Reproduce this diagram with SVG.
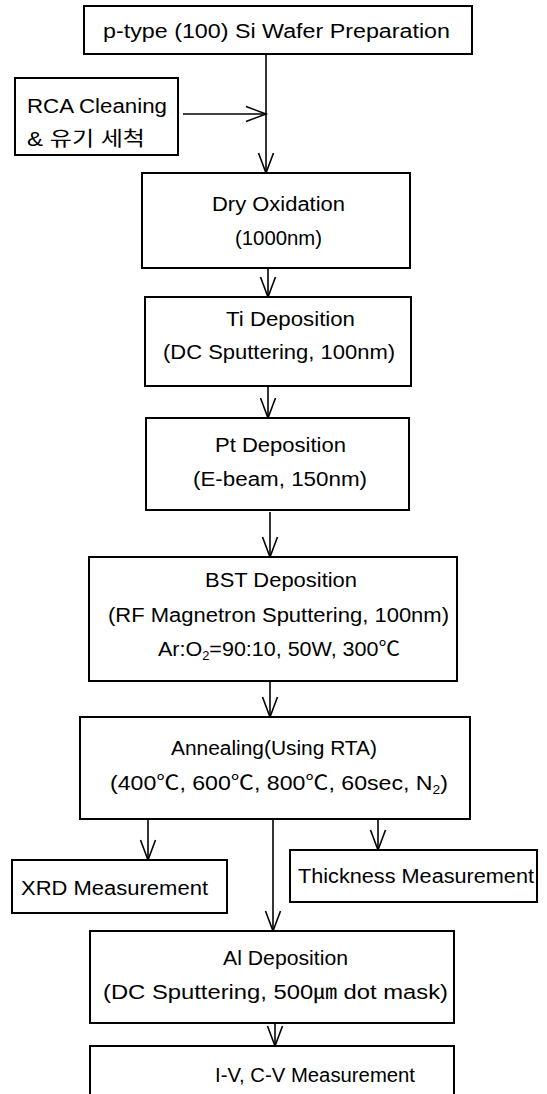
<svg xmlns="http://www.w3.org/2000/svg" width="547" height="1094" viewBox="0 0 547 1094">
<style>
.box{fill:#fff;stroke:#000;stroke-width:2}
.ln{fill:none;stroke:#000;stroke-width:1.6}
text{font-family:"Liberation Sans","Noto Sans CJK KR",sans-serif;font-size:20px;fill:#000}
.s{font-size:12px}
</style>
<defs>
<marker id="ah" markerUnits="userSpaceOnUse" markerWidth="24" markerHeight="18" refX="21" refY="8" orient="auto" overflow="visible">
<path d="M1,0.5 L21,8 L1,15.5" fill="none" stroke="#000" stroke-width="1.6"/>
</marker>
</defs>
<rect width="547" height="1094" fill="#fff"/>
<g id="connectors">
<line class="ln" x1="266" y1="54" x2="266" y2="173" marker-end="url(#ah)"/>
<line class="ln" x1="183" y1="114" x2="266" y2="114" marker-end="url(#ah)"/>
<line class="ln" x1="268" y1="268" x2="268" y2="297" marker-end="url(#ah)"/>
<line class="ln" x1="268" y1="386" x2="268" y2="418" marker-end="url(#ah)"/>
<line class="ln" x1="270" y1="512" x2="270" y2="557" marker-end="url(#ah)"/>
<line class="ln" x1="270" y1="681" x2="270" y2="717" marker-end="url(#ah)"/>
<line class="ln" x1="148" y1="819" x2="148" y2="860" marker-end="url(#ah)"/>
<line class="ln" x1="378" y1="819" x2="378" y2="850" marker-end="url(#ah)"/>
<line class="ln" x1="273" y1="819" x2="273" y2="931" marker-end="url(#ah)"/>
<line class="ln" x1="275" y1="1023" x2="275" y2="1046" marker-end="url(#ah)"/>
</g>
<g id="n-wafer">
<rect class="box" x="84" y="6" width="388" height="48"/>
<text x="103" y="38" textLength="347" lengthAdjust="spacingAndGlyphs">p-type (100) Si Wafer Preparation</text>
</g>
<g id="n-rca">
<rect class="box" x="15" y="78" width="163" height="77"/>
<text x="27" y="113" textLength="140" lengthAdjust="spacingAndGlyphs">RCA Cleaning</text>
<text x="27" y="146" textLength="118" lengthAdjust="spacingAndGlyphs">&amp; 유기 세척</text>
</g>
<g id="n-dry">
<rect class="box" x="142" y="173" width="268" height="95"/>
<text x="212" y="211" textLength="133" lengthAdjust="spacingAndGlyphs">Dry Oxidation</text>
<text x="235" y="245" textLength="87" lengthAdjust="spacingAndGlyphs">(1000nm)</text>
</g>
<g id="n-ti">
<rect class="box" x="145" y="297" width="266" height="89"/>
<text x="226" y="326" textLength="129" lengthAdjust="spacingAndGlyphs">Ti Deposition</text>
<text x="163" y="359" textLength="232" lengthAdjust="spacingAndGlyphs">(DC Sputtering, 100nm)</text>
</g>
<g id="n-pt">
<rect class="box" x="146" y="418" width="263" height="92"/>
<text x="215" y="452" textLength="131" lengthAdjust="spacingAndGlyphs">Pt Deposition</text>
<text x="193" y="486" textLength="174" lengthAdjust="spacingAndGlyphs">(E-beam, 150nm)</text>
</g>
<g id="n-bst">
<rect class="box" x="89" y="557" width="368" height="124"/>
<text x="205" y="587" textLength="152" lengthAdjust="spacingAndGlyphs">BST Deposition</text>
<text x="108" y="622" textLength="341" lengthAdjust="spacingAndGlyphs">(RF Magnetron Sputtering, 100nm)</text>
<text x="158" y="656" textLength="242" lengthAdjust="spacingAndGlyphs">Ar:O<tspan class="s" dy="4">2</tspan><tspan dy="-4">=90:10, 50W, 300℃</tspan></text>
</g>
<g id="n-anneal">
<rect class="box" x="80" y="717" width="390" height="102"/>
<text x="171" y="755" textLength="206" lengthAdjust="spacingAndGlyphs">Annealing(Using RTA)</text>
<text x="110" y="790" textLength="338" lengthAdjust="spacingAndGlyphs">(400℃, 600℃, 800℃, 60sec, N<tspan class="s" dy="4">2</tspan><tspan dy="-4">)</tspan></text>
</g>
<g id="n-xrd">
<rect class="box" x="12" y="860" width="215" height="53"/>
<text x="21" y="895" textLength="187" lengthAdjust="spacingAndGlyphs">XRD Measurement</text>
</g>
<g id="n-thick">
<rect class="box" x="290" y="850" width="247" height="52"/>
<text x="298" y="883" textLength="236" lengthAdjust="spacingAndGlyphs">Thickness Measurement</text>
</g>
<g id="n-al">
<rect class="box" x="90" y="931" width="364" height="92"/>
<text x="223" y="965" textLength="125" lengthAdjust="spacingAndGlyphs">Al Deposition</text>
<text x="103" y="999" textLength="345" lengthAdjust="spacingAndGlyphs">(DC Sputtering, 500㎛ dot mask)</text>
</g>
<g id="n-iv">
<rect class="box" x="90" y="1046" width="364" height="60"/>
<text x="215" y="1082" textLength="200" lengthAdjust="spacingAndGlyphs">I-V, C-V Measurement</text>
</g>
</svg>
